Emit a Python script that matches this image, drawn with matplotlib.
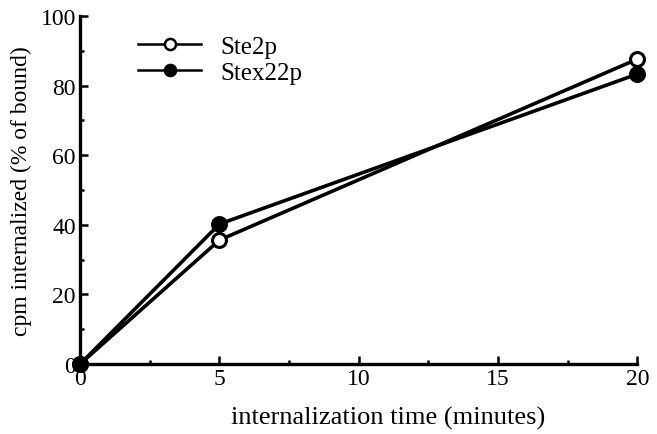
import matplotlib
matplotlib.use("Agg")
import matplotlib.pyplot as plt
from matplotlib.ticker import MultipleLocator

time_min = [0, 5, 20]
ste2p = [0, 35.6, 87.6]
stex22p = [0, 40.2, 83.3]
series_names = ["Ste2p", "Stex22p"]

plt.rcParams['font.family'] = ['Liberation Serif', 'DejaVu Serif']

fig = plt.figure(figsize=(6.57, 4.35), dpi=100)
ax = fig.add_axes([0.122, 0.161, 0.848, 0.800])

ax.plot(time_min, ste2p, color='black', lw=2.6, marker='o', ms=10,
        mfc='white', mec='black', mew=2.2, label=series_names[0], clip_on=False, zorder=3)
ax.plot(time_min, stex22p, color='black', lw=2.6, marker='o', ms=10,
        mfc='black', mec='black', mew=2.2, label=series_names[1], clip_on=False, zorder=3)

ax.set_xlim(0, 20)
ax.set_ylim(0, 100)
ax.xaxis.set_major_locator(MultipleLocator(5))
ax.xaxis.set_minor_locator(MultipleLocator(2.5))
ax.yaxis.set_major_locator(MultipleLocator(20))
ax.yaxis.set_minor_locator(MultipleLocator(10))
ax.tick_params(which='both', direction='in', width=1.8, labelsize=17, pad=3)
ax.tick_params(which='major', length=6)
ax.tick_params(which='minor', length=3)
ax.spines['top'].set_visible(False)
ax.spines['right'].set_visible(False)
ax.spines['left'].set_linewidth(2.4)
ax.spines['bottom'].set_linewidth(2.4)

ax.set_xlabel("internalization time (minutes)", fontsize=19, labelpad=12)
ax.xaxis.label.set_x(0.553)
ax.set_ylabel("cpm internalized (% of bound)", fontsize=17, labelpad=6)

leg = ax.legend(loc='upper left', bbox_to_anchor=(0.073, 0.995), frameon=False,
                fontsize=18, handlelength=2.5, handletextpad=0.8, labelspacing=0.15,
                borderpad=0.2)
for ln in leg.get_lines():
    ln.set_linewidth(1.8)
    ln.set_markersize(8)
    ln.set_markeredgewidth(1.8)

fig.savefig("out.png", dpi=100)
